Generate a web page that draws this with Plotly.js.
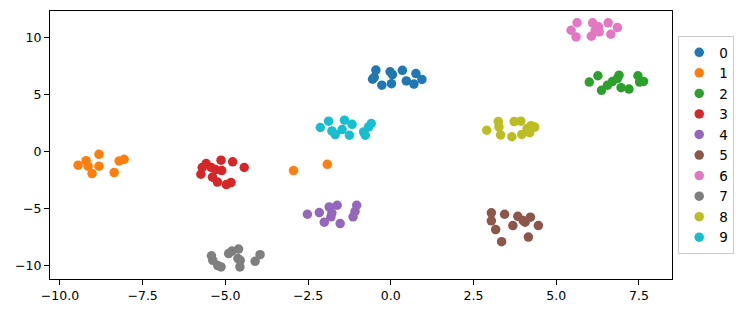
<!DOCTYPE html>
<html>
<head>
<meta charset="utf-8">
<script src="https://cdn.plot.ly/plotly-3.0.1.min.js"></script>
<style>html,body{margin:0;padding:0;background:#fff;}#chart{width:746px;height:313px;}</style>
</head>
<body>
<div id="chart"></div>
<script>
const labels = ["0","1","2","3","4","5","6","7","8","9"];
const colors = ["#1f77b4","#ff7f0e","#2ca02c","#d62728","#9467bd","#8c564b","#e377c2","#7f7f7f","#bcbd22","#17becf"];

const x0 = [-0.55,-0.45,-0.27,-0.02,0.02,0.35,0.47,0.70,0.76,0.94,-0.5,0.05];
const y0 = [6.35,7.15,5.82,7.0,5.95,7.13,6.2,5.92,6.84,6.33,6.5,6.75];
const x1 = [-9.45,-9.21,-9.15,-9.03,-8.82,-8.82,-8.36,-8.21,-8.06,-2.94,-1.92];
const y1 = [-1.2,-0.8,-1.28,-1.93,-0.24,-1.28,-1.84,-0.82,-0.68,-1.67,-1.12];
const x2 = [6.0,6.26,6.37,6.55,6.7,6.85,6.9,6.96,7.2,7.47,7.52,7.64];
const y2 = [6.1,6.65,5.37,5.82,6.14,6.4,6.7,5.6,5.48,6.65,6.1,6.15];
const x3 = [-5.7,-5.74,-5.58,-5.43,-5.39,-5.3,-5.24,-5.13,-5.11,-4.97,-4.83,-4.78,-4.43];
const y3 = [-1.4,-1.99,-1.05,-1.39,-2.25,-1.58,-2.68,-0.76,-1.67,-2.9,-2.72,-0.9,-1.4];
const x4 = [-2.52,-2.16,-2.01,-1.86,-1.78,-1.81,-1.62,-1.53,-1.14,-1.08,-1.03];
const y4 = [-5.5,-5.35,-6.2,-4.86,-5.38,-5.73,-4.71,-6.32,-5.73,-5.25,-4.71];
const x5 = [3.04,3.04,3.17,3.35,3.44,3.69,3.84,4.0,4.06,4.22,4.16,4.46];
const y5 = [-5.37,-6.08,-6.84,-7.91,-5.5,-6.49,-5.68,-6.05,-6.2,-5.76,-7.5,-6.49];
const x6 = [5.45,5.63,5.6,6.06,6.1,6.18,6.28,6.57,6.65,6.85,6.3];
const y6 = [10.64,11.3,10.06,10.12,11.29,10.64,10.94,11.29,10.29,10.88,10.5];
const x7 = [-5.42,-5.38,-5.23,-5.13,-4.9,-4.8,-4.6,-4.62,-4.55,-4.56,-4.1,-3.95];
const y7 = [-9.14,-9.54,-10.0,-10.12,-8.95,-8.73,-8.55,-9.39,-9.54,-10.12,-9.63,-9.05];
const x8 = [2.9,3.25,3.27,3.32,3.66,3.73,3.93,3.96,4.12,4.24,4.35,4.2];
const y8 = [1.87,2.63,2.16,1.46,1.3,2.63,2.66,1.5,2.02,2.27,2.15,1.65];
const x9 = [-2.13,-1.88,-1.78,-1.68,-1.47,-1.4,-1.25,-1.17,-0.82,-0.77,-0.67,-0.59];
const y9 = [2.11,2.66,1.81,1.49,1.93,2.75,1.43,2.39,1.72,1.43,2.16,2.46];

const xs = [x0,x1,x2,x3,x4,x5,x6,x7,x8,x9];
const ys = [y0,y1,y2,y3,y4,y5,y6,y7,y8,y9];

const traces = labels.map((lab, i) => ({
  type: "scatter", mode: "markers", name: lab,
  x: xs[i], y: ys[i],
  marker: {color: colors[i], size: 9.5, line: {width: 0}}
}));

const axisBase = {
  showgrid: false, zeroline: false, showline: true, mirror: true,
  linecolor: "#000", linewidth: 1, ticks: "outside", ticklen: 5,
  tickcolor: "#000", tickfont: {family: "DejaVu Sans", size: 12.5, color: "#000"}
};

const layout = {
  width: 746, height: 313,
  margin: {l: 50, r: 74, t: 11, b: 34, pad: 0},
  paper_bgcolor: "#fff", plot_bgcolor: "#fff",
  showlegend: true,
  xaxis: Object.assign({}, axisBase, {range: [-10.30, 8.50], tickvals: [-10,-7.5,-5,-2.5,0,2.5,5,7.5], tickformat: ".1f"}),
  yaxis: Object.assign({}, axisBase, {range: [-11.18, 12.33], tickvals: [-10,-5,0,5,10], tickformat: "d"}),
  legend: {
    x: 1.01, y: 0.5, xanchor: "left", yanchor: "middle",
    bordercolor: "#cccccc", borderwidth: 1, bgcolor: "#fff",
    font: {family: "DejaVu Sans", size: 13.5, color: "#000"}
  }
};

Plotly.newPlot("chart", traces, layout, {staticPlot: true, displayModeBar: false});
</script>
</body>
</html>
